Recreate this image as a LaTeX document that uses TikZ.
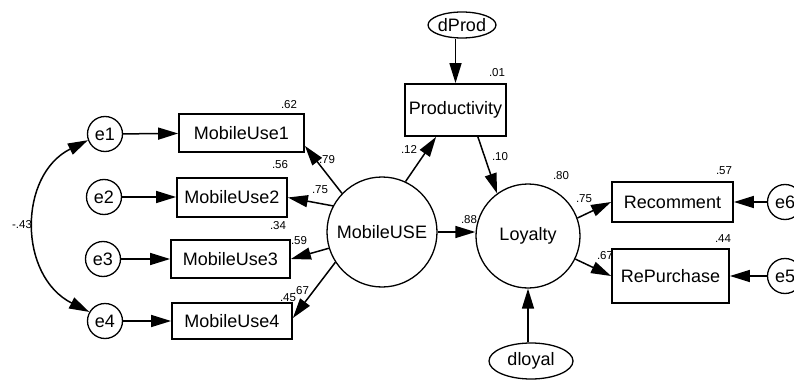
\documentclass[tikz,border=0pt]{standalone}
\usepackage{fontspec}
\setmainfont{Liberation Sans}
\usetikzlibrary{arrows.meta,calc,shapes.geometric}
\begin{document}
\begin{tikzpicture}[x=1pt,y=-1pt,
 every node/.style={font=\fontsize{18}{20}\selectfont, inner sep=0pt},
 obs/.style={draw, line width=1.8pt, rectangle},
 lat/.style={draw, line width=1.3pt, circle},
 err/.style={draw, line width=1.3pt, circle, minimum size=35pt},
 dist/.style={draw, line width=1.3pt, ellipse},
 lbl/.style={font=\fontsize{11.5}{12}\selectfont},
 pth/.style={line width=1.5pt, -{Triangle[length=20pt,width=12pt]}},
 cov/.style={line width=1.5pt, {Triangle[length=20pt,width=12pt]}-{Triangle[length=20pt,width=12pt]}}
]
\useasboundingbox (0,0) rectangle (794,382);

% observed variables
\node[obs, minimum width=125pt, minimum height=38pt] (MU1) at (241.5,133) {MobileUse1};
\node[obs, minimum width=110pt, minimum height=39pt] (MU2) at (232,197.5) {MobileUse2};
\node[obs, minimum width=119pt, minimum height=38pt] (MU3) at (230.5,259) {MobileUse3};
\node[obs, minimum width=120pt, minimum height=36pt] (MU4) at (232,321) {MobileUse4};
\node[obs, minimum width=101pt, minimum height=52pt] (Prod) at (455.5,110) {Productivity};
\node[obs, minimum width=121pt, minimum height=40pt] (Rec) at (672.5,202) {Recomment};
\node[obs, minimum width=117pt, minimum height=54pt] (RP) at (670.5,276) {RePurchase};

% latent variables
\node[lat, minimum size=110pt] (MUSE) at (382,232) {MobileUSE};
\node[lat, minimum size=104pt] (Loy) at (528,236) {Loyalty};

% error terms
\node[err] (e1) at (105,134) {e1};
\node[err] (e2) at (104,197) {e2};
\node[err] (e3) at (103,259) {e3};
\node[err] (e4) at (105,321) {e4};
\node[err] (e6) at (785,202) {e6};
\node[err] (e5) at (785,276) {e5};
\node[dist, minimum width=62pt, minimum height=26pt] (dProd) at (462,25) {dProd};
\node[dist, minimum width=84pt, minimum height=36pt] (dloyal) at (531,361) {dloyal};

% paths
\draw[pth] (e1) -- (MU1);
\draw[pth] (e2) -- (e2 -| MU2.west);
\draw[pth] (e3) -- (MU3);
\draw[pth] (e4) -- (MU4);
\draw[pth] (MUSE.136) -- ($(MU1.south east)+(0,-7)$);
\draw[pth] (MUSE.152) -- (MU2.east);
\draw[pth] (MUSE.197) -- (MU3.east);
\draw[pth] (MUSE.213) -- ($(MU4.east)+(0,-3)$);
\draw[pth] (MUSE.65) -- ($(Prod.south west)+(32,0)$);
\draw[pth] ($(Prod.south east)+(-29,0)$) -- (Loy.126);
\draw[pth] (dProd.south -| Prod.north) -- (Prod.north);
\draw[pth] (MUSE.east) -- (MUSE.east -| Loy.west);
\draw[pth] (Loy.20) -- (Rec.west);
\draw[pth] (Loy.334) -- (RP.west);
\draw[pth] (e6) -- (Rec);
\draw[pth] (e5) -- (RP);
\draw[pth] (dloyal.north -| Loy.south) -- (Loy.south);
\draw[cov] (e1.200) .. controls (18,175) and (18,276) .. (e4.150);

% coefficients
\node[lbl] (l62) at (289,105) {.62};
\node[lbl] (l56) at (280,165) {.56};
\node[lbl] (l34) at (278,226) {.34};
\node[lbl] (l59) at (299,241) {.59};
\node[lbl] (l67a) at (301,291) {.67};
\node[lbl] (l45) at (288,298) {.45};
\node[lbl] (l79) at (327,160) {.79};
\node[lbl] (l75a) at (320,190) {.75};
\node[lbl] (l12) at (409,149) {.12};
\node[lbl] (l10) at (500,157) {.10};
\node[lbl] (l01) at (497,73) {.01};
\node[lbl] (l88) at (469,220) {.88};
\node[lbl] (l80) at (561,176) {.80};
\node[lbl] (l75b) at (584,199) {.75};
\node[lbl] (l67b) at (605,256) {.67};
\node[lbl] (l57) at (724,171) {.57};
\node[lbl] (l44) at (723,239) {.44};
\node[lbl] (l43) at (22,225) {-.43};
\end{tikzpicture}
\end{document}
